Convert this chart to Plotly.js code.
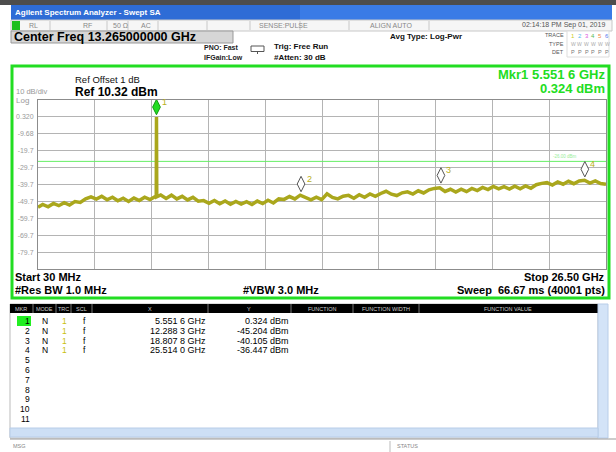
<!DOCTYPE html>
<html><head><meta charset="utf-8">
<script src="https://cdn.plot.ly/plotly-3.0.1.min.js"></script>
<style>html,body{margin:0;padding:0;background:#fff;}#chart{width:616px;height:452px;}</style>
</head><body><div id="chart"></div>
<script>
// ---------- data ----------
const traceFreqGHz = [0.03,0.25,0.5,0.75,1.0,1.25,1.5,1.75,2.0,2.25,2.5,2.75,3.0,3.25,3.5,3.75,4.0,4.25,4.5,4.75,5.0,5.25,5.5,5.54,5.5516,5.565,5.75,6.0,6.25,6.5,6.75,7.0,7.25,7.5,7.75,8.0,8.25,8.5,8.75,9.0,9.25,9.5,9.75,10.0,10.25,10.5,10.75,11.0,11.25,11.5,11.75,12.0,12.25,12.5,12.75,13.0,13.25,13.5,13.75,14.0,14.25,14.5,14.75,15.0,15.25,15.5,15.75,16.0,16.25,16.5,16.75,17.0,17.25,17.5,17.75,18.0,18.25,18.5,18.75,19.0,19.25,19.5,19.75,20.0,20.25,20.5,20.75,21.0,21.25,21.5,21.75,22.0,22.25,22.5,22.75,23.0,23.25,23.5,23.75,24.0,24.25,24.5,24.75,25.0,25.25,25.5,25.75,26.0,26.25,26.5];
const traceLevelDbm = [-53.2,-51.5,-52.9,-50.9,-52.2,-50.4,-51.8,-49.8,-50.3,-48.2,-47.0,-48.3,-46.6,-48.7,-47.2,-49.3,-47.8,-49.7,-47.7,-49.2,-47.2,-48.6,-46.8,-47.4,0.324,-47.0,-45.9,-47.9,-46.0,-48.2,-46.7,-48.8,-47.3,-49.6,-49.2,-50.8,-49.1,-51.1,-49.4,-51.4,-49.7,-51.3,-49.9,-51.5,-49.5,-51.0,-49.0,-50.6,-48.2,-48.5,-46.8,-48.2,-46.0,-47.5,-48.7,-47.2,-48.6,-45.2,-47.3,-48.2,-46.6,-46.1,-47.8,-45.7,-47.2,-45.3,-46.7,-45.0,-43.7,-45.4,-46.2,-44.6,-44.0,-45.3,-43.4,-44.7,-42.8,-42.0,-41.6,-43.8,-42.5,-44.1,-42.4,-43.9,-42.0,-43.3,-41.4,-42.7,-40.8,-42.3,-40.9,-42.4,-40.7,-42.2,-40.5,-41.9,-39.8,-39.0,-38.6,-40.0,-38.2,-39.5,-37.8,-39.2,-37.6,-37.2,-38.8,-37.5,-39.1,-39.6];
const markerIds = ['1','2','3','4'];
const markerFreqGHz = [5.5516, 12.2883, 18.8078, 25.5140];
const markerLevelDbm = [0.324, -45.204, -40.105, -36.447];
const markerXText = ['5.551 6 GHz','12.288 3 GHz','18.807 8 GHz','25.514 0 GHz'];
const markerYText = ['0.324 dBm','-45.204 dBm','-40.105 dBm','-36.447 dBm'];
const yTickVals = [0.32,-9.68,-19.68,-29.68,-39.68,-49.68,-59.68,-69.68,-79.68];
const yTickText = ['0.320','-9.68','-19.7','-29.7','-39.7','-49.7','-59.7','-69.7','-79.7'];
const displayLineDbm = -26;
const startGHz = 0.03, stopGHz = 26.5;
const refLevelDbm = 10.32, dbPerDiv = 10, numDiv = 10;

// ---------- layout helpers ----------
const W = 616, H = 452;
const FONT = 'Liberation Sans, Arial, sans-serif';
const PL = 38, PR = 606, PT = 100, PB = 269;
const px = x => x / W, py = y => 1 - y / H;
const shapes = [], ann = [];
function R(x0, y0, x1, y1, fill, line, lw) {
  shapes.push({type:'rect', xref:'paper', yref:'paper', layer:'below',
    x0:px(x0), x1:px(x1), y0:py(y0), y1:py(y1), fillcolor:fill||'rgba(0,0,0,0)',
    line:{color:line||'rgba(0,0,0,0)', width:lw===undefined?(line?1:0):lw}});
}
function L(x0, y0, x1, y1, color, lw) {
  shapes.push({type:'line', xref:'paper', yref:'paper', layer:'below',
    x0:px(x0), x1:px(x1), y0:py(y0), y1:py(y1), line:{color:color, width:lw||1}});
}
function T(text, x, y, size, color, anchor, bold) {
  ann.push({text: bold ? '<b>'+text+'</b>' : text, xref:'paper', yref:'paper',
    x:px(x), y:py(y), xanchor:anchor||'left', yanchor:'middle', showarrow:false, borderpad:0,
    font:{family:FONT, size:size, color:color||'#000'}});
}

// ---------- window chrome ----------
R(0, 0, W, 5, '#4d4d4d');
R(11, 5, 612, 20, '#2e6cd6');
R(300, 5, 612, 20, '#3a7be6');
T('Agilent Spectrum Analyzer - Swept SA', 14, 12.5, 8, '#ffffff', 'left', true);
R(11, 20, 612, 31, '#f6f6f6', '#c8c8c8');
R(12, 21, 20, 30, '#1fbf1f');
[50,107,128,158,207,250,300,349,429].forEach(x => L(x, 21, x, 30, '#c8c8c8'));
T('RL', 28, 25.5, 7, '#888');
T('RF', 82, 25.5, 7, '#888');
T('50 Ω', 112, 25.5, 7, '#888');
T('AC', 140, 25.5, 7, '#888');
T('SENSE:PULSE', 258, 25.5, 7, '#888');
T('ALIGN AUTO', 369, 25.5, 7, '#888');
T('02:14:18 PM Sep 01, 2019', 606, 25.5, 7, '#555', 'right');
R(11, 31, 233, 43, '#d6d6d6', '#999');
T('Center Freq 13.265000000 GHz', 13, 37.5, 12.5, '#000', 'left', true);
T('PNO: Fast', 240, 48, 7, '#222', 'right', true);
T('IFGain:Low', 244, 57.5, 7, '#222', 'right', true);
shapes.push({type:'rect', xref:'paper', yref:'paper', layer:'below', x0:px(251), x1:px(264), y0:py(46), y1:py(51.5), line:{color:'#555', width:1}, fillcolor:'#fff'});
L(257.5, 51.5, 257.5, 54, '#555', 1);
T('Trig: Free Run', 273, 46.5, 8, '#111', 'left', true);
T('#Atten: 30 dB', 273, 57.5, 8, '#111', 'left', true);
T('Avg Type: Log-Pwr', 389, 36, 8, '#111', 'left', true);
T('TRACE', 565, 35.5, 5.5, '#555', 'right');
T('TYPE', 565, 43.5, 5.5, '#555', 'right');
T('DET', 565, 52, 5.5, '#555', 'right');
R(567, 31, 609, 57, '#fff', '#ddd');
const trColors = ['#cccc22','#55bbee','#dd55dd','#55bb55','#ee8844','#5577ee'];
trColors.forEach((c,i) => {
  T(String(i+1), 570 + i*6.8, 36, 6, c, 'left');
  T('W', 569.5 + i*6.8, 44, 5, '#aaa', 'left');
  T('P', 570 + i*6.8, 52, 5.5, '#777', 'left');
});

// ---------- display frame ----------
R(12, 66, 609, 298, '#ffffff', '#22dd22', 3);
T('Ref Offset 1 dB', 74, 79.5, 9.5, '#111');
T('Ref 10.32 dBm', 74, 91.5, 12, '#000', 'left', true);
T('10 dB/div', 15, 92, 7.5, '#999');
T('Log', 15, 100, 8, '#999');
T('Mkr1 5.551 6 GHz', 606, 74.5, 13, '#22dd22', 'right', true);
T('0.324 dBm', 606, 88.5, 13, '#22dd22', 'right', true);
T('-26.00 dBm', 578, 156.5, 4.5, '#99ee99', 'right');
T('Start 30 MHz', 14, 276.5, 11, '#000', 'left', true);
T('#Res BW 1.0 MHz', 14, 290, 11, '#000', 'left', true);
T('#VBW 3.0 MHz', 242, 290, 11, '#000', 'left', true);
T('Stop 26.50 GHz', 606, 276.5, 11, '#000', 'right', true);
T('Sweep  66.67 ms (40001 pts)', 606, 290, 11, '#000', 'right', true);

// ---------- marker table ----------
R(10, 304, 598, 438, '#ffffff', '#bbbbbb');
R(10, 304, 598, 313, '#000000');
[33,56,71,92,208,291,353,419].forEach(x => L(x, 304, x, 313, '#777'));
const hdr = [['MKR',21],['MODE',44],['TRC',63],['SCL',81],['X',150],['Y',249],['FUNCTION',322],['FUNCTION WIDTH',386],['FUNCTION VALUE',508]];
hdr.forEach(h => T(h[0], h[1], 308.5, 5.5, '#cccccc', 'center'));
R(598, 304, 608, 438, '#d3e3f7', '#b8cde8');
R(10, 428, 598, 437, '#cddff5', '#b8cde8');
R(17, 316, 31, 326, '#22ee22');
const rowY = i => 321 + i * 9.8;
const ROWFONT = 8.5;
for (let i = 0; i < 11; i++) T(String(i+1), 31, rowY(i), ROWFONT, '#000', 'right');
markerIds.forEach((m, i) => {
  T('N', 45, rowY(i), ROWFONT, '#000', 'center');
  T('1', 64, rowY(i), ROWFONT, '#c8c010', 'center');
  T('f', 84, rowY(i), ROWFONT, '#000', 'center');
  T(markerXText[i], 207, rowY(i), ROWFONT + 0.5, '#000', 'right');
  T(markerYText[i], 290, rowY(i), ROWFONT + 0.5, '#000', 'right');
});
L(10, 439, 616, 439, '#999');
L(390, 441, 390, 452, '#bbb');
T('MSG', 12, 446, 5.5, '#888');
T('STATUS', 396, 446, 5.5, '#888');

// marker number labels, anchored at each marker's data point
const markerOffsetDb = 5.8;
markerIds.forEach((m, i) => {
  ann.push({text:m, xref:'x', yref:'y', x:markerFreqGHz[i], y:markerLevelDbm[i],
    xshift:8, yshift:15, showarrow:false, xanchor:'center', yanchor:'middle',
    font:{family:FONT, size:9, color:'#b8b020'}});
});

// ---------- traces ----------
const data = [
  {x:[startGHz, stopGHz], y:[displayLineDbm, displayLineDbm], mode:'lines', line:{color:'#66ee66', width:1}, hoverinfo:'skip'},
  {x:traceFreqGHz, y:traceLevelDbm, mode:'lines', line:{color:'#aaa71c', width:3.5, shape:'linear'}, hoverinfo:'skip'},
  {x:markerFreqGHz, y:markerLevelDbm.map(v => v + markerOffsetDb), mode:'markers',
   marker:{symbol:'diamond-tall', size:11,
     color:markerIds.map((m,i) => i === 0 ? '#22dd22' : '#ffffff'),
     line:{color:markerIds.map((m,i) => i === 0 ? '#119911' : '#555555'), width:1}},
   cliponaxis:false, hoverinfo:'skip'}
];

const layout = {
  width:W, height:H, margin:{l:0, r:0, t:0, b:0}, showlegend:false,
  paper_bgcolor:'#ffffff', plot_bgcolor:'rgba(0,0,0,0)',
  xaxis:{domain:[px(PL), px(PR)], range:[startGHz, stopGHz], tick0:startGHz, dtick:(stopGHz-startGHz)/numDiv,
    showticklabels:false, ticks:'', showgrid:true, gridcolor:'#b4b4b4', gridwidth:1, zeroline:false,
    showline:true, mirror:true, linecolor:'#8c8c8c', linewidth:1, fixedrange:true},
  yaxis:{domain:[py(PB), py(PT)], range:[refLevelDbm - dbPerDiv*numDiv, refLevelDbm],
    tickmode:'array', tickvals:yTickVals, ticktext:yTickText, ticks:'',
    tickfont:{family:FONT, size:7, color:'#9a9a9a'}, ticklabelstandoff:2,
    showgrid:true, gridcolor:'#b4b4b4', gridwidth:1, zeroline:false,
    showline:true, mirror:true, linecolor:'#8c8c8c', linewidth:1, fixedrange:true},
  shapes:shapes, annotations:ann
};
Plotly.newPlot('chart', data, layout, {displayModeBar:false, staticPlot:true});
</script></body></html>
